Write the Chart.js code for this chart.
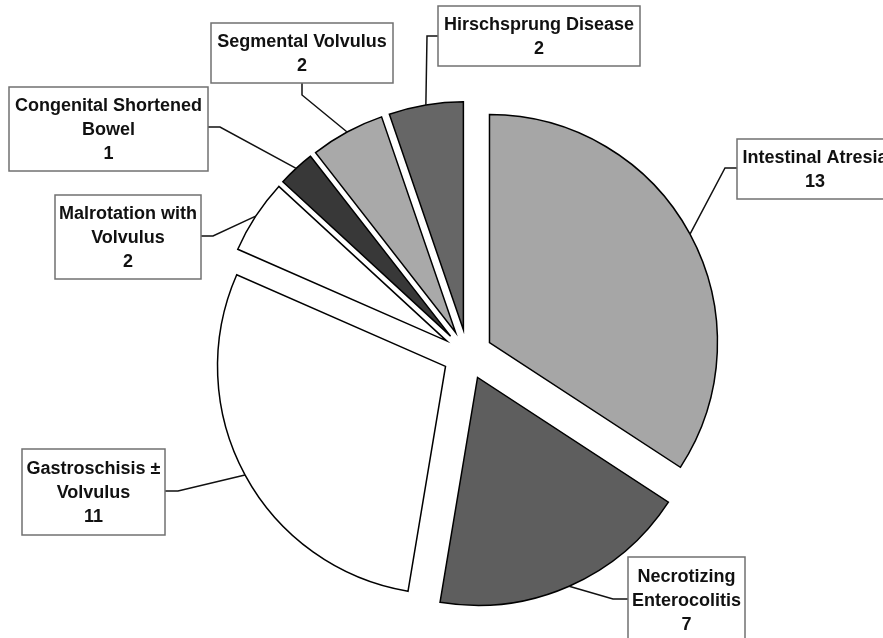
<!DOCTYPE html>
<html><head><meta charset="utf-8">
<script src="https://cdn.jsdelivr.net/npm/chart.js@4.4.1/dist/chart.umd.min.js"></script>
<style>html,body{margin:0;padding:0;background:#fff;overflow:hidden;}</style>
</head><body>
<canvas id="c" width="883" height="638" style="display:block;width:883px;height:638px;"></canvas>
<script>
// ---- data ----
const categories = [
  ['Intestinal Atresia'],
  ['Necrotizing', 'Enterocolitis'],
  ['Gastroschisis \u00B1', 'Volvulus'],
  ['Malrotation with', 'Volvulus'],
  ['Congenital Shortened', 'Bowel'],
  ['Segmental Volvulus'],
  ['Hirschsprung Disease']
];
const counts = [13, 7, 11, 2, 1, 2, 2];

// ---- styles ----
const sliceColors = ['#a6a6a6', '#5e5e5e', '#ffffff', '#ffffff', '#383838', '#a9a9a9', '#666666'];
const explode = 100;          // Chart.js offset (arc translated by offset/4)
const pieRadius = 228;

// label boxes: box rect, point where leader leaves the box, elbow point
const labelLayout = [
  {box: [737, 139, 156, 60], from: [737, 168], elbow: [725, 168]},
  {box: [628, 557, 117, 86], from: [628, 599], elbow: [613, 599]},
  {box: [22, 449, 143, 86],  from: [165, 491], elbow: [178, 491]},
  {box: [55, 195, 146, 84],  from: [201, 236], elbow: [213, 236]},
  {box: [9, 87, 199, 84],    from: [208, 127], elbow: [220, 127]},
  {box: [211, 23, 182, 60],  from: [302, 83],  elbow: [302, 95]},
  {box: [438, 6, 202, 60],   from: [438, 36],  elbow: [427, 36]}
];

// keep every exploded slice at the same radius and full angular width
const equalRadius = {
  id: 'equalRadius',
  beforeDatasetsDraw(chart) {
    const meta = chart.getDatasetMeta(0);
    const base = meta.controller.outerRadius;
    const t = explode / 4;
    const data = chart.data.datasets[0].data;
    const total = data.reduce((a, b) => a + b, 0);
    let cum = 0;
    meta.data.forEach((arc, i) => {
      const s = -Math.PI / 2 + 2 * Math.PI * cum / total;
      cum += data[i];
      const e = -Math.PI / 2 + 2 * Math.PI * cum / total;
      const fix = 1 - Math.sin(Math.min(Math.PI, e - s));
      const ro = t * fix;
      arc.outerRadius = base - ro;
      const d = ro / (2 * Math.PI * base);
      arc.startAngle = s - d;
      arc.endAngle = e + d;
      arc.circumference = e - s;
    });
  }
};

const calloutLabels = {
  id: 'calloutLabels',
  afterDatasetsDraw(chart) {
    const ctx = chart.ctx;
    const meta = chart.getDatasetMeta(0);
    const t = explode / 4;
    const labels = chart.data.labels;
    const vals = chart.data.datasets[0].data;
    ctx.save();
    meta.data.forEach((arc, i) => {
      const L = labelLayout[i];
      const h = (arc.startAngle + arc.endAngle) / 2;
      const ax = arc.x + Math.cos(h) * (t + pieRadius);
      const ay = arc.y + Math.sin(h) * (t + pieRadius);
      ctx.beginPath();
      ctx.moveTo(ax, ay);
      ctx.lineTo(L.elbow[0], L.elbow[1]);
      ctx.lineTo(L.from[0], L.from[1]);
      ctx.strokeStyle = '#111';
      ctx.lineWidth = 1.5;
      ctx.stroke();
    });
    meta.data.forEach((arc, i) => {
      const L = labelLayout[i];
      const [bx, by, bw, bh] = L.box;
      ctx.fillStyle = '#ffffff';
      ctx.fillRect(bx, by, bw, bh);
      ctx.strokeStyle = '#707070';
      ctx.lineWidth = 1.5;
      ctx.strokeRect(bx, by, bw, bh);
      const lines = labels[i].concat([String(vals[i])]);
      const lh = 23.7;
      const cx = bx + bw / 2;
      const cy = by + bh / 2;
      ctx.fillStyle = '#111';
      ctx.font = 'bold 18px "Liberation Sans", Arial, sans-serif';
      ctx.textAlign = 'center';
      ctx.textBaseline = 'middle';
      lines.forEach((s, k) => {
        ctx.fillText(s, cx, cy + (k - (lines.length - 1) / 2) * lh + 1);
      });
    });
    ctx.restore();
  }
};

new Chart(document.getElementById('c'), {
  type: 'pie',
  data: {
    labels: categories,
    datasets: [{
      data: counts,
      backgroundColor: sliceColors,
      borderColor: '#000',
      borderWidth: 1.5,
      borderJoinStyle: 'miter',
      offset: explode
    }]
  },
  options: {
    responsive: false,
    animation: false,
    events: [],
    radius: pieRadius,
    layout: {padding: {left: 52, top: 71, right: 0, bottom: 0}},
    plugins: {legend: {display: false}, tooltip: {enabled: false}}
  },
  plugins: [equalRadius, calloutLabels]
});
</script>
</body></html>
